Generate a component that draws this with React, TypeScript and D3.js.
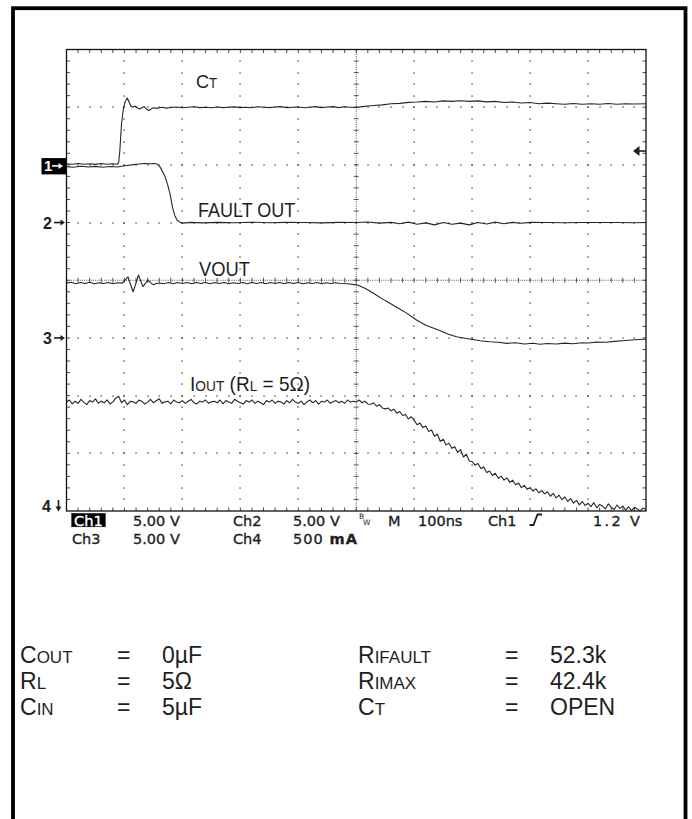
import React from 'react';
import * as d3 from 'd3';

// scope setup
const TIME_PER_DIV_NS = 100;
const H_DIVS = 10;
const V_DIVS = 8;
const CH_LABELS = ['Ch1', 'Ch2', 'Ch3', 'Ch4'];
const CH_PER_DIV = [5, 5, 5, 500];
const CH_PER_DIV_TEXT = ['5.00 V', '5.00 V', '5.00 V', '500 mA'];
const CH_GROUND_DIV = [2, 1, -1, -4];
const TIMEBASE_TEXT = '100ns';
const TRIGGER_SOURCE = 'Ch1';
const TRIGGER_LEVEL_V = 1.2;
const TRIGGER_TEXT = '1.2 V';

// Ch1 — CT pin, [ns, V]
const CT_V: [number, number][] = [
  [0, 0.1], [10, 0.05], [20, 0.12], [30, 0.06], [40, 0.1], [50, 0.04], [60, 0.12], [70, 0.05], [80, 0.1], [88, 0.06],
  [90, 0.2], [92, 1.2], [95, 3.6], [98, 4.8], [101, 5.45], [105, 5.8], [108, 5.45], [111, 5.1], [114, 5.0], [118, 5.1],
  [122, 4.95], [126, 4.85], [130, 4.95], [134, 5.05], [138, 4.85], [142, 4.72], [146, 4.85], [150, 4.95], [155, 4.9],
  [160, 4.95], [166, 5.0], [172, 4.92], [180, 4.97], [190, 5.02], [200, 4.95], [210, 5.0], [220, 5.04], [230, 4.96],
  [240, 5.0], [250, 4.95], [260, 5.02], [270, 4.96], [280, 5.0], [290, 5.03], [300, 4.96], [310, 5.0], [320, 4.95],
  [330, 5.04], [340, 5.0], [350, 4.96], [360, 5.02], [370, 5.05], [380, 4.96], [390, 5.0], [400, 5.02], [410, 4.95],
  [420, 5.0], [430, 5.05], [440, 4.96], [450, 5.02], [460, 5.05], [470, 4.96], [480, 5.04], [490, 5.0], [500, 4.97],
  [510, 5.05], [520, 5.1], [530, 5.14], [545, 5.2], [560, 5.3], [575, 5.33], [590, 5.42], [605, 5.45], [620, 5.5],
  [635, 5.45], [650, 5.55], [665, 5.5], [680, 5.56], [695, 5.5], [710, 5.55], [725, 5.46], [740, 5.5], [755, 5.4],
  [770, 5.45], [785, 5.36], [800, 5.4], [815, 5.3], [830, 5.35], [845, 5.3], [860, 5.26], [875, 5.32], [890, 5.25],
  [905, 5.3], [920, 5.26], [935, 5.32], [950, 5.25], [965, 5.3], [980, 5.28], [1000, 5.3],
];

// Ch2 — FAULT OUT, [ns, V]
const FAULT_V: [number, number][] = [
  [0, 4.85], [12, 4.8], [25, 4.88], [38, 4.82], [50, 4.87], [62, 4.8], [75, 4.86], [88, 4.82], [95, 4.88], [105, 4.95],
  [115, 5.02], [125, 5.08], [135, 5.12], [145, 5.1], [152, 5.12], [157, 5.05], [161, 4.85], [165, 4.5], [170, 4.0],
  [175, 3.2], [179, 2.4], [183, 1.3], [187, 0.6], [191, 0.2], [196, 0.02], [200, -0.05], [215, 0.02], [235, -0.03],
  [260, 0.02], [290, -0.02], [320, 0.03], [350, -0.02], [380, 0.02], [410, 0], [440, -0.03], [470, 0.02], [500, 0],
  [520, 0.05], [540, -0.05], [560, 0.02], [575, -0.1], [590, 0.04], [605, -0.15], [620, -0.03], [635, -0.2], [650, 0],
  [665, -0.15], [680, -0.05], [695, -0.2], [710, 0.0], [725, -0.12], [740, 0.04], [755, -0.1], [770, 0.02],
  [785, -0.06], [800, 0.02], [830, 0], [860, -0.02], [890, 0], [920, 0.01], [950, 0], [980, -0.01], [1000, 0],
];

// Ch3 — VOUT, [ns, V]
const VOUT_V: [number, number][] = [
  [0, 4.75], [8, 4.82], [16, 4.7], [24, 4.8], [32, 4.72], [40, 4.82], [48, 4.7], [56, 4.79], [64, 4.72], [72, 4.8],
  [80, 4.7], [88, 4.78], [96, 4.75], [101, 5.0], [106, 5.3], [110, 4.7], [115, 4.0], [119, 4.6], [124, 5.45],
  [128, 4.95], [132, 4.45], [137, 4.8], [141, 5.0], [145, 4.8], [150, 4.6], [155, 4.72], [161, 4.76], [168, 4.7],
  [176, 4.8], [184, 4.7], [192, 4.8], [200, 4.72], [208, 4.8], [216, 4.7], [224, 4.8], [232, 4.72], [240, 4.8],
  [248, 4.7], [256, 4.8], [264, 4.72], [272, 4.8], [280, 4.7], [288, 4.78], [296, 4.72], [304, 4.8], [312, 4.7],
  [320, 4.8], [328, 4.72], [336, 4.8], [344, 4.7], [352, 4.8], [360, 4.72], [368, 4.8], [376, 4.7], [384, 4.8],
  [392, 4.72], [400, 4.8], [408, 4.7], [416, 4.78], [424, 4.72], [432, 4.8], [440, 4.7], [448, 4.78], [456, 4.72],
  [464, 4.78], [472, 4.72], [485, 4.7], [501, 4.6], [515, 4.3], [529, 3.9], [543, 3.45], [558, 3.0], [572, 2.6],
  [587, 2.15], [604, 1.55], [620, 1.1], [644, 0.65], [658, 0.35], [673, 0.1], [690, -0.05], [714, -0.25],
  [730, -0.33], [745, -0.38], [760, -0.47], [775, -0.42], [790, -0.53], [805, -0.46], [817, -0.55], [830, -0.48],
  [845, -0.53], [860, -0.45], [874, -0.5], [890, -0.42], [900, -0.44], [915, -0.36], [932, -0.37], [945, -0.3],
  [960, -0.24], [975, -0.18], [995, -0.12], [1000, -0.1],
];

// Ch4 — IOUT, one sample every 5 ns, mA
const IOUT_SAMPLE_NS = 5;
const IOUT_MA = [
  945, 962, 928, 951, 933, 967, 941, 922, 957, 944,
  972, 934, 952, 938, 963, 928, 946, 978, 994, 938,
  962, 922, 951, 946, 932, 961, 952, 927, 944, 967,
  938, 956, 973, 933, 946, 952, 928, 962, 944, 938,
  957, 933, 951, 967, 938, 928, 952, 944, 962, 933,
  946, 952, 938, 962, 928, 957, 944, 933, 968, 951,
  938, 927, 957, 944, 962, 933, 952, 938, 922, 957,
  944, 962, 933, 951, 946, 927, 957, 938, 967, 944,
  933, 952, 922, 946, 962, 938, 957, 927, 951, 944,
  962, 933, 946, 957, 938, 951, 933, 962, 944, 951,
  945, 962, 938, 951, 928, 925, 937, 908, 922, 893, 885, 892, 868, 882, 848, 862, 828, 837, 798, 817,
  785, 748, 762, 723, 737, 688, 702, 648, 667, 603, 622, 573, 587, 543, 557, 508, 532, 468, 492, 433,
  427, 398, 412, 368, 382, 333, 347, 308, 327, 283, 302, 268, 287, 248, 267, 228, 242, 203, 222, 188,
  202, 173, 192, 158, 177, 148, 167, 128, 152, 113, 137, 98, 122, 83, 107, 68, 92, 53, 82, 48,
  67, 38, 72, 28, 57, 43, 18, 62, 33, 13, 52, 23, 42, 8, 37, 3, 32, 18, 0, 27, 10,
];

type Part = { t: string; s?: boolean };
const CT_LABEL: Part[] = [{ t: 'C' }, { t: 'T', s: true }];
const FAULT_LABEL: Part[] = [{ t: 'FAULT OUT' }];
const VOUT_LABEL: Part[] = [{ t: 'VOUT' }];
const IOUT_LABEL: Part[] = [{ t: 'I' }, { t: 'OUT', s: true }, { t: ' (R' }, { t: 'L', s: true }, { t: ' = 5Ω)' }];

const PARAM_NAMES_LEFT: Part[][] = [
  [{ t: 'C' }, { t: 'OUT', s: true }],
  [{ t: 'R' }, { t: 'L', s: true }],
  [{ t: 'C' }, { t: 'IN', s: true }],
];
const PARAM_VALUES_LEFT = ['0µF', '5Ω', '5µF'];
const PARAM_NAMES_RIGHT: Part[][] = [
  [{ t: 'R' }, { t: 'IFAULT', s: true }],
  [{ t: 'R' }, { t: 'IMAX', s: true }],
  [{ t: 'C' }, { t: 'T', s: true }],
];
const PARAM_VALUES_RIGHT = ['52.3k', '42.4k', 'OPEN'];

const SANS = 'Liberation Sans, Arial, Helvetica, sans-serif';
const SCOPE_FONT = 'DejaVu Sans, Verdana, sans-serif';
const INK = '#1e1e1e';

function Label({ x, y, parts, size, small, sx = 1 }: { x: number; y: number; parts: Part[]; size: number; small: number; sx?: number }) {
  return (
    <g transform={`translate(${x},${y}) scale(${sx},1)`}>
      <text x={0} y={0} fontFamily={SANS} fontSize={size} fill={INK} style={{ whiteSpace: 'pre' }}>
        {parts.map((p, i) => (
          <tspan key={i} fontSize={p.s ? small : size}>{p.t}</tspan>
        ))}
      </text>
    </g>
  );
}

export default function App() {
  const W = 692, H = 819;
  const plot = { left: 66.5, right: 646, top: 49.5, bottom: 511 };
  const x = d3.scaleLinear().domain([0, H_DIVS * TIME_PER_DIV_NS]).range([plot.left, plot.right]);
  const yDiv = d3.scaleLinear().domain([-V_DIVS / 2, V_DIVS / 2]).range([plot.bottom, plot.top]);
  const chY = (ch: number, v: number) => yDiv(CH_GROUND_DIV[ch] + v / CH_PER_DIV[ch]);

  const traceLine = (ch: number) => d3.line<[number, number]>().x(d => x(d[0])).y(d => chY(ch, d[1]));
  const iout: [number, number][] = IOUT_MA.map((v, i) => [i * IOUT_SAMPLE_NS, v]);
  const traces = [
    { ch: 0, pts: CT_V },
    { ch: 1, pts: FAULT_V },
    { ch: 2, pts: VOUT_V },
    { ch: 3, pts: iout },
  ];

  const minorX = d3.range(1, H_DIVS * 5).map(k => x(k * TIME_PER_DIV_NS / 5));
  const minorY = d3.range(1, V_DIVS * 5).map(k => yDiv(-V_DIVS / 2 + k / 5));
  const majorX = d3.range(1, H_DIVS).filter(i => i !== H_DIVS / 2).map(i => x(i * TIME_PER_DIV_NS));
  const majorY = d3.range(-V_DIVS / 2 + 1, V_DIVS / 2).filter(j => j !== 0).map(j => yDiv(j));
  const cx = x(H_DIVS * TIME_PER_DIV_NS / 2);
  const cy = yDiv(0);

  const dots: JSX.Element[] = [];
  majorX.forEach((gx, i) => minorY.forEach((gy, k) => dots.push(
    <rect key={`v${i}-${k}`} x={Math.round(gx) - 0.6} y={Math.round(gy) - 0.6} width={1.3} height={1.3} fill="#3a3a3a" />)));
  majorY.forEach((gy, j) => minorX.forEach((gx, k) => dots.push(
    <rect key={`h${j}-${k}`} x={Math.round(gx) - 0.6} y={Math.round(gy) - 0.6} width={1.3} height={1.3} fill="#3a3a3a" />)));

  const trigY = chY(CH_LABELS.indexOf(TRIGGER_SOURCE), TRIGGER_LEVEL_V);

  const arrowRight = (x0: number, yy: number) => (
    <g>
      <line x1={x0} x2={x0 + 8} y1={yy} y2={yy} stroke={INK} strokeWidth={1.6} />
      <path d={`M${x0 + 11},${yy} L${x0 + 6.5},${yy - 3} L${x0 + 6.5},${yy + 3} Z`} fill={INK} />
    </g>
  );

  const rowsY = [663, 689, 715];

  return (
    <svg width={W} height={H} style={{ position: 'absolute', left: 0, top: 0, background: '#fff' }}>
      {/* page border */}
      <rect x={13} y={8.2} width={672.5} height={900} fill="none" stroke="#000" strokeWidth={3.8} />

      {/* graticule */}
      {dots}
      <line x1={cx} x2={cx} y1={plot.top} y2={plot.bottom} stroke="#555" strokeWidth={1} strokeDasharray="1 1.2" />
      <line x1={plot.left} x2={plot.right} y1={cy} y2={cy} stroke="#555" strokeWidth={1} strokeDasharray="1 1.2" />
      {minorY.map((gy, k) => (
        <line key={`cv${k}`} x1={cx - 2.5} x2={cx + 2.5} y1={gy} y2={gy} stroke="#444" strokeWidth={0.9} />
      ))}
      {minorX.map((gx, k) => (
        <line key={`ch${k}`} x1={gx} x2={gx} y1={cy - 2.5} y2={cy + 2.5} stroke="#444" strokeWidth={0.9} />
      ))}
      {minorX.map((gx, k) => (
        <g key={`et${k}`}>
          <line x1={gx} x2={gx} y1={plot.top} y2={plot.top + 3.5} stroke="#333" strokeWidth={0.9} />
          <line x1={gx} x2={gx} y1={plot.bottom - 3.5} y2={plot.bottom} stroke="#333" strokeWidth={0.9} />
        </g>
      ))}
      {minorY.map((gy, k) => (
        <g key={`es${k}`}>
          <line x1={plot.left} x2={plot.left + 3.5} y1={gy} y2={gy} stroke="#333" strokeWidth={0.9} />
          <line x1={plot.right - 3.5} x2={plot.right} y1={gy} y2={gy} stroke="#333" strokeWidth={0.9} />
        </g>
      ))}
      <rect x={plot.left} y={plot.top} width={plot.right - plot.left} height={plot.bottom - plot.top}
        fill="none" stroke="#111" strokeWidth={1.3} />

      {/* traces */}
      {traces.map(t => (
        <path key={t.ch} d={traceLine(t.ch)(t.pts) || ''} fill="none" stroke="#262626"
          strokeWidth={1.1} strokeLinejoin="round" />
      ))}

      {/* trace labels */}
      <Label x={196} y={88} parts={CT_LABEL} size={19} small={14} sx={0.95} />
      <Label x={198} y={216.5} parts={FAULT_LABEL} size={20} small={14} sx={0.9} />
      <Label x={199} y={276} parts={VOUT_LABEL} size={20} small={14} sx={0.92} />
      <Label x={190} y={390.5} parts={IOUT_LABEL} size={20} small={14.5} sx={0.95} />

      {/* channel ground markers */}
      <rect x={41.5} y={chY(0, 0) - 6.8} width={24.5} height={16.3} fill="#000" />
      <text x={44} y={chY(0, 0) + 6.6} fontFamily={SANS} fontWeight="bold" fontSize={15} fill="#fff">1</text>
      <line x1={52} x2={60} y1={chY(0, 0) + 1} y2={chY(0, 0) + 1} stroke="#fff" strokeWidth={1.6} />
      <path d={`M${63},${chY(0, 0) + 1} L${58.5},${chY(0, 0) - 2} L${58.5},${chY(0, 0) + 4} Z`} fill="#fff" />
      {[1, 2].map(ch => (
        <g key={ch}>
          <text x={43} y={chY(ch, 0) + 6.5} fontFamily={SANS} fontWeight="bold" fontSize={16} fill={INK}>{ch + 1}</text>
          {arrowRight(54, chY(ch, 0))}
        </g>
      ))}
      <text x={42} y={511.5} fontFamily={SANS} fontWeight="bold" fontSize={16} fill={INK}>4</text>
      <line x1={58.5} x2={58.5} y1={500} y2={508} stroke={INK} strokeWidth={1.6} />
      <path d={`M58.5,511.5 L55.5,506.5 L61.5,506.5 Z`} fill={INK} />

      {/* trigger level */}
      <line x1={639} x2={plot.right} y1={trigY} y2={trigY} stroke={INK} strokeWidth={1.6} />
      <path d={`M633,${trigY} L639.5,${trigY - 5} L639.5,${trigY + 5} Z`} fill={INK} />

      {/* status line */}
      <g fontFamily={SCOPE_FONT} fontSize={14.5} fill={INK} stroke={INK} strokeWidth={0.35}>
        <rect x={71.5} y={513.3} width={34} height={13.6} fill="#000" />
        <text x={74} y={525.5} fill="#fff" stroke="#fff" textLength={29} lengthAdjust="spacingAndGlyphs">{CH_LABELS[0]}</text>
        <text x={133} y={525.5}>{CH_PER_DIV_TEXT[0]}</text>
        <text x={233} y={525.5}>{CH_LABELS[1]}</text>
        <text x={293} y={525.5}>{CH_PER_DIV_TEXT[1]}</text>
        <text x={359} y={519} fontSize={7.5} strokeWidth={0}>B</text>
        <text x={363} y={524.5} fontSize={7.5} strokeWidth={0}>W</text>
        <text x={388} y={525.5}>M</text>
        <text x={418} y={525.5}>{TIMEBASE_TEXT}</text>
        <text x={488} y={525.5}>{TRIGGER_SOURCE}</text>
        <path d="M529.5,525 L533.5,525 L537.5,514.5 L542,514.5" fill="none" stroke={INK} strokeWidth={1.8} />
        <text x={593} y={525.5} textLength={47} lengthAdjust="spacing">{TRIGGER_TEXT}</text>

        <text x={72} y={543.5}>{CH_LABELS[2]}</text>
        <text x={133} y={543.5}>{CH_PER_DIV_TEXT[2]}</text>
        <text x={233} y={543.5}>{CH_LABELS[3]}</text>
        <text x={293} y={543.5} textLength={64} lengthAdjust="spacing">{CH_PER_DIV_TEXT[3].split(' ')[0]} <tspan fontWeight="bold">{CH_PER_DIV_TEXT[3].split(' ')[1]}</tspan></text>
      </g>

      {/* test conditions */}
      {rowsY.map((ry, i) => (
        <g key={i}>
          <Label x={20} y={ry} parts={PARAM_NAMES_LEFT[i]} size={23} small={17} />
          <Label x={117} y={ry} parts={[{ t: '=' }]} size={23} small={17} />
          <Label x={162} y={ry} parts={[{ t: PARAM_VALUES_LEFT[i] }]} size={23} small={17} />
          <Label x={358} y={ry} parts={PARAM_NAMES_RIGHT[i]} size={23} small={17} />
          <Label x={505} y={ry} parts={[{ t: '=' }]} size={23} small={17} />
          <Label x={550} y={ry} parts={[{ t: PARAM_VALUES_RIGHT[i] }]} size={23} small={17} />
        </g>
      ))}
    </svg>
  );
}
